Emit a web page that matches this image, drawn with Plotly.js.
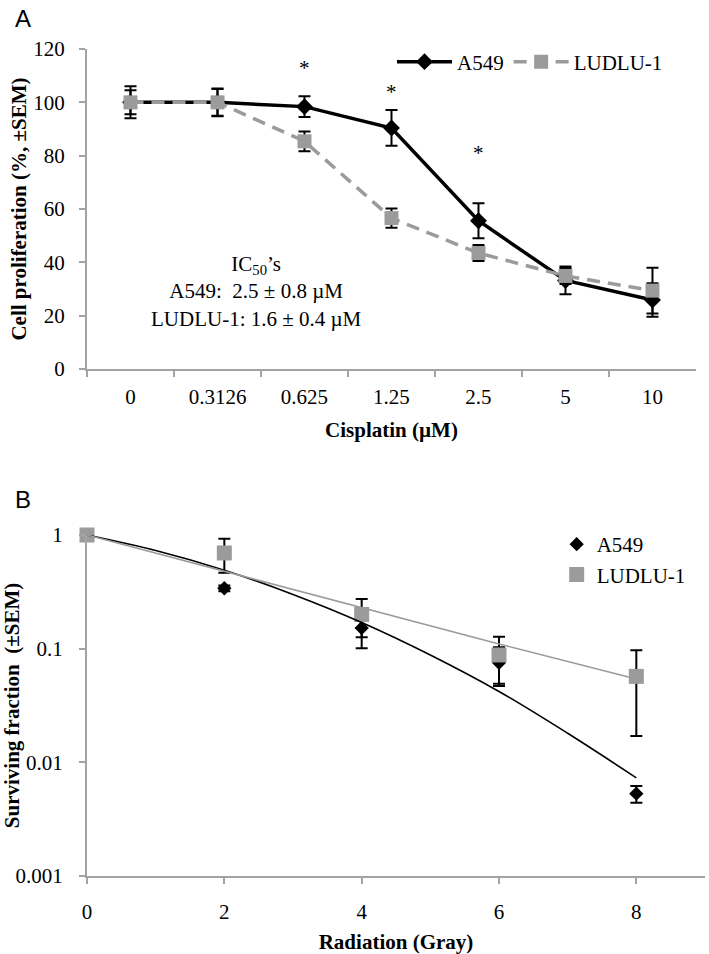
<!DOCTYPE html>
<html>
<head>
<meta charset="utf-8">
<script src="https://cdn.plot.ly/plotly-3.0.1.min.js"></script>
<style>
  html, body { margin: 0; padding: 0; background: #fff; }
  #chart { width: 709px; height: 954px; }
</style>
</head>
<body>
<div id="chart"></div>
<script>
// ---------- Panel A: cisplatin ----------
const concLabels = ['0', '0.3126', '0.625', '1.25', '2.5', '5', '10'];
const a549Prolif = [100, 100, 98.4, 90.4, 55.6, 33.2, 25.9];
const a549ProlifErr = [6, 5.2, 3.9, 6.7, 6.6, 5.2, 6.3];
const ludluProlif = [100, 100, 85.4, 56.6, 43.5, 34.9, 29.4];
const ludluProlifErr = [4.5, 5, 3.7, 3.6, 3, 3, 8.6];
const starConc = ['0.625', '1.25', '2.5'];
const starLevel = [113, 103.7, 81.1];

// ---------- Panel B: radiation ----------
const dose = [0, 2, 4, 6, 8];
const a549Surv = [1, 0.34, 0.152, 0.075, 0.0053];
const a549SurvErr = [0, 0.02, 0.051, 0.028, 0.0009];
const ludluSurv = [1, 0.695, 0.2, 0.088, 0.057];
const ludluSurvErr = [0, 0.23, 0.074, 0.039, 0.04];
const a549FitDose = [0, 1, 2, 3, 4, 5, 6, 7, 8];
const a549Fit = [1, 0.73, 0.49, 0.30, 0.17, 0.088, 0.042, 0.018, 0.0073];
const ludluFitDose = [0, 2, 4, 6, 8];
const ludluFit = [1, 0.48, 0.23, 0.11, 0.054];
const logTickVals = [0.001, 0.01, 0.1, 1];
const logTickText = ['0.001', '0.01', '0.1', '1'];

const SERIF = '"Liberation Serif", "Times New Roman", serif';
const SANS = '"Liberation Sans", Arial, sans-serif';
const GRAY = '#9b9b9b';
const AXIS = '#a3a3a3';

const errA = arr => ({type: 'data', array: arr, visible: true, color: '#000', thickness: 2, width: 6});

const traces = [
  {
    x: concLabels, y: a549Prolif, name: 'A549', type: 'scatter', mode: 'lines+markers',
    xaxis: 'x', yaxis: 'y', legend: 'legend',
    line: {color: '#000', width: 3.5},
    marker: {symbol: 'diamond', size: 13, color: '#000'},
    error_y: errA(a549ProlifErr)
  },
  {
    x: concLabels, y: ludluProlif, name: 'LUDLU-1', type: 'scatter', mode: 'lines+markers',
    xaxis: 'x', yaxis: 'y', legend: 'legend',
    line: {color: GRAY, width: 3.5, dash: '13px,8px'},
    marker: {symbol: 'square', size: 14, color: GRAY},
    error_y: errA(ludluProlifErr)
  },
  {
    x: dose, y: a549Surv, name: 'A549', type: 'scatter', mode: 'markers',
    xaxis: 'x2', yaxis: 'y2', legend: 'legend2', cliponaxis: false,
    marker: {symbol: 'diamond', size: 11, color: '#000'},
    error_y: errA(a549SurvErr)
  },
  {
    x: dose, y: ludluSurv, name: 'LUDLU-1', type: 'scatter', mode: 'markers',
    xaxis: 'x2', yaxis: 'y2', legend: 'legend2', cliponaxis: false,
    marker: {symbol: 'square', size: 15, color: GRAY},
    error_y: errA(ludluSurvErr)
  },
  {
    x: a549FitDose, y: a549Fit, name: 'A549 fit', type: 'scatter', mode: 'lines',
    xaxis: 'x2', yaxis: 'y2', showlegend: false, cliponaxis: false,
    line: {color: '#000', width: 1.6, shape: 'spline'}
  },
  {
    x: ludluFitDose, y: ludluFit, name: 'LUDLU-1 fit', type: 'scatter', mode: 'lines',
    xaxis: 'x2', yaxis: 'y2', showlegend: false, cliponaxis: false,
    line: {color: GRAY, width: 1.6}
  }
];

const annotations = starConc.map((c, i) => ({
  xref: 'x', yref: 'y', x: concLabels.indexOf(c), y: starLevel[i], text: '*', showarrow: false,
  font: {family: SERIF, size: 21, color: '#000'}, xanchor: 'center', yanchor: 'middle'
}));
annotations.push({
  xref: 'x', yref: 'y', x: 1.45, y: 29, showarrow: false, align: 'center',
  xanchor: 'center', yanchor: 'middle',
  text: 'IC<sub>50</sub>\u2019s<br>A549:\u00a0 2.5 \u00b1 0.8 \u00b5M<br>LUDLU-1: 1.6 \u00b1 0.4 \u00b5M',
  font: {family: SERIF, size: 21, color: '#000'}
});
annotations.push({
  xref: 'paper', yref: 'paper', x: -0.1036, y: 0.9811, text: 'A', showarrow: false,
  xanchor: 'center', yanchor: 'middle', font: {family: SANS, size: 24, color: '#000'}
});
annotations.push({
  xref: 'paper', yref: 'paper', x: -0.1036, y: 0.4759, text: 'B', showarrow: false,
  xanchor: 'center', yanchor: 'middle', font: {family: SANS, size: 24, color: '#000'}
});

const tickFont = {family: SERIF, size: 21, color: '#000'};
const titleFont = {family: SERIF, size: 21, color: '#000', weight: 'bold'};

const layout = {
  width: 709, height: 954,
  margin: {l: 87, r: 4, t: 0, b: 0},
  paper_bgcolor: '#fff', plot_bgcolor: '#fff',
  font: {family: SERIF, size: 21, color: '#000'},
  xaxis: {
    domain: [0, 0.9854], anchor: 'y', type: 'category', range: [-0.5, 6.5],
    showline: true, linecolor: AXIS, linewidth: 2, showgrid: false, zeroline: false,
    ticks: 'outside', tickson: 'boundaries', ticklen: 6, tickcolor: AXIS, tickwidth: 2,
    tickfont: tickFont, ticklabelstandoff: 8,
    title: {text: 'Cisplatin (\u00b5M)', font: titleFont, standoff: 14}
  },
  yaxis: {
    domain: [0.6132, 0.9486], anchor: 'x', range: [0, 120], dtick: 20,
    showline: true, linecolor: AXIS, linewidth: 2, showgrid: false, zeroline: false,
    ticks: 'outside', ticklen: 6, tickcolor: AXIS, tickwidth: 2,
    tickfont: tickFont, ticklabelstandoff: 10,
    title: {text: 'Cell proliferation (%, \u00b1SEM)', font: titleFont}
  },
  xaxis2: {
    domain: [0, 1], anchor: 'y2', range: [0, 9], tickvals: dose,
    showline: true, linecolor: AXIS, linewidth: 2, showgrid: false, zeroline: false,
    ticks: 'outside', ticklen: 6, tickcolor: AXIS, tickwidth: 2,
    tickfont: tickFont, ticklabelstandoff: 10,
    title: {text: 'Radiation (Gray)', font: titleFont, standoff: 20}
  },
  yaxis2: {
    domain: [0.0818, 0.4392], anchor: 'x2', type: 'log', range: [-3, 0],
    tickvals: logTickVals, ticktext: logTickText,
    showline: true, linecolor: AXIS, linewidth: 2, showgrid: false, zeroline: false,
    ticks: 'outside', ticklen: 6, tickcolor: AXIS, tickwidth: 2,
    tickfont: tickFont, ticklabelstandoff: 12,
    title: {text: 'Surviving fraction\u00a0 (\u00b1SEM)', font: titleFont}
  },
  legend: {
    orientation: 'h', x: 0.4935, y: 0.935, xanchor: 'left', yanchor: 'middle',
    font: {family: SERIF, size: 21, color: '#000'}, bgcolor: 'rgba(0,0,0,0)',
    itemwidth: 55
  },
  legend2: {
    orientation: 'v', x: 0.76, y: 0.4135, xanchor: 'left', yanchor: 'middle',
    font: {family: SERIF, size: 21, color: '#000'}, bgcolor: 'rgba(0,0,0,0)'
  },
  showlegend: true,
  annotations: annotations
};

Plotly.newPlot('chart', traces, layout, {displayModeBar: false, staticPlot: true});
</script>
</body>
</html>
